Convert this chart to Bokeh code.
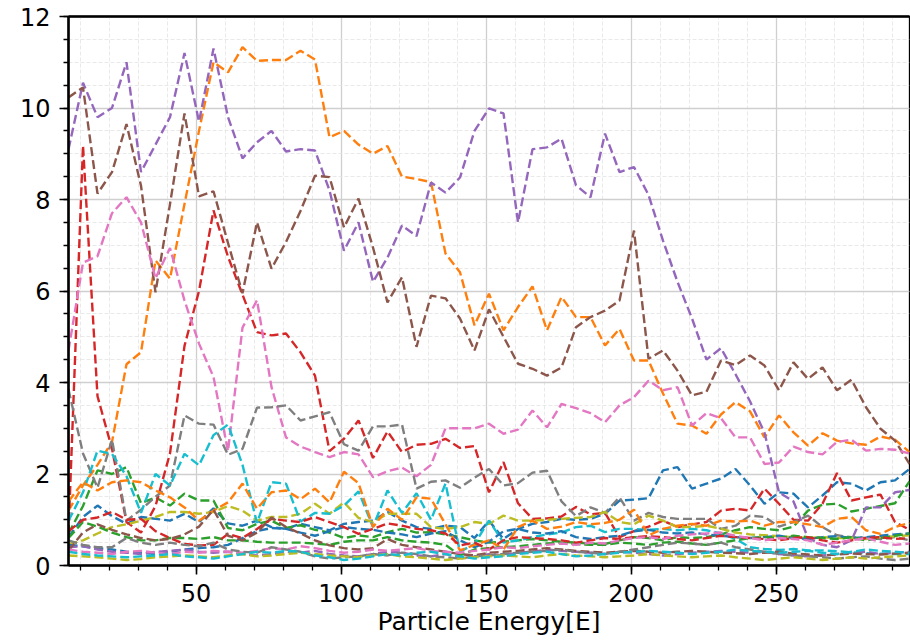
from bokeh.plotting import figure
from bokeh.models import Range1d, SingleIntervalTicker, LinearAxis, FixedTicker, Title
from bokeh.embed import file_html
from bokeh.resources import INLINE

# Particle energy grid
energy = [6, 11, 16, 21, 26, 31, 36, 41, 46, 51,
          56, 61, 66, 71, 76, 81, 86, 91, 96, 101,
          106, 111, 116, 121, 126, 131, 136, 141, 146, 151,
          156, 161, 166, 171, 176, 181, 186, 191, 196, 201,
          206, 211, 216, 221, 226, 231, 236, 241, 246, 251,
          256, 261, 266, 271, 276, 281, 286, 291, 296]

# First group of spectra
blue_a = [0.62, 1.06, 1.31, 1.08, 0.91, 1.06, 1.02, 0.98, 1.13, 0.95,
          1.25, 0.92, 0.87, 0.98, 0.84, 0.8, 0.91, 0.84, 0.77, 0.91,
          0.95, 0.98, 1.17, 0.98, 0.84, 0.8, 0.87, 0.84, 0.6, 0.98,
          0.58, 0.8, 0.91, 0.95, 1.02, 1.0, 1.02, 1.13, 1.42, 1.44,
          1.47, 2.08, 2.15, 1.68, 1.79, 1.9, 2.11, 1.75, 1.35, 1.6,
          1.57, 1.27, 1.53, 1.82, 1.79, 1.64, 1.82, 1.86, 2.11]
orange_a = [1.2, 1.75, 2.2, 2.7, 4.4, 4.66, 6.67, 6.27, 7.9, 9.5,
            11.0, 10.78, 11.33, 11.03, 11.05, 11.05, 11.25, 11.06, 9.36, 9.5,
            9.2, 9.0, 9.17, 8.5, 8.45, 8.38, 6.82, 6.41, 5.25, 5.94,
            5.14, 5.65, 6.1, 5.14, 5.87, 5.43, 5.43, 4.81, 5.17, 4.48,
            4.48, 3.76, 3.1, 3.06, 2.88, 3.3, 3.57, 3.37, 2.8, 3.28,
            2.91, 2.62, 2.89, 2.73, 2.67, 2.64, 2.82, 2.75, 2.48]
green_a = [0.7, 1.3, 2.08, 2.0, 2.15, 1.36, 1.49, 1.31, 1.57, 1.42,
           1.42, 0.82, 0.77, 0.91, 0.98, 0.82, 0.88, 0.78, 0.72, 0.6,
           0.66, 0.62, 0.73, 0.8, 0.72, 0.73, 0.68, 0.62, 0.55, 0.5,
           0.52, 0.55, 0.58, 0.55, 0.52, 0.5, 0.48, 0.47, 0.55, 0.62,
           0.6, 0.55, 0.62, 0.6, 0.62, 0.68, 0.77, 0.84, 0.8, 0.77,
           0.85, 1.2, 1.33, 1.35, 1.18, 1.24, 1.3, 1.36, 1.84]
red_a = [0.69, 9.18, 3.7, 2.55, 0.95, 0.72, 1.3, 2.45, 4.8, 6.0,
         7.76, 6.75, 5.92, 5.1, 5.03, 5.07, 4.66, 4.15, 2.5, 2.77,
         3.17, 2.35, 2.93, 2.48, 2.64, 2.66, 2.77, 2.57, 2.61, 1.6,
         2.26, 1.36, 1.02, 1.03, 1.07, 1.28, 1.12, 1.15, 0.62, 0.75,
         0.85, 0.98, 0.84, 0.9, 0.95, 1.2, 1.24, 1.2, 1.68, 1.35,
         1.0, 0.98, 1.35, 2.02, 1.42, 1.49, 1.55, 0.95, 0.78]
purple_a = [9.1, 10.55, 9.8, 10.0, 11.0, 8.6, 9.2, 9.8, 11.2, 9.7,
            11.3, 9.8, 8.9, 9.25, 9.5, 9.05, 9.1, 9.07, 8.2, 6.88,
            7.5, 6.2, 6.73, 7.43, 7.2, 8.37, 8.15, 8.48, 9.5, 9.99,
            9.88, 7.5, 9.1, 9.14, 9.33, 8.31, 8.05, 9.44, 8.6, 8.71,
            8.1, 7.1, 6.2, 5.4, 4.5, 4.75, 4.18, 3.59, 2.9, 1.6,
            1.4, 0.6, 0.45, 0.4, 0.55, 1.27, 1.27, 1.6, 1.65]
brown_a = [10.23, 10.45, 8.13, 8.6, 9.65, 8.3, 5.97, 7.9, 9.88, 8.07,
           8.18, 7.05, 5.95, 7.5, 6.49, 7.07, 7.75, 8.52, 8.49, 7.39,
           8.02, 6.95, 5.75, 6.3, 4.78, 5.9, 5.84, 5.4, 4.7, 5.6,
           5.0, 4.41, 4.3, 4.15, 4.33, 5.21, 5.43, 5.57, 5.79, 7.32,
           4.52, 4.7, 4.26, 3.72, 3.8, 4.48, 4.38, 4.59, 4.37, 3.83,
           4.44, 4.08, 4.33, 3.83, 4.06, 3.46, 2.99, 2.73, 2.22]
pink_a = [4.7, 6.62, 6.76, 7.7, 8.05, 7.5, 6.28, 6.94, 5.79, 4.85,
          4.12, 2.5, 5.2, 5.8, 3.9, 2.8, 2.6, 2.48, 2.37, 2.48,
          2.43, 1.93, 2.06, 2.14, 1.95, 2.2, 3.0, 3.0, 3.0, 3.1,
          2.88, 2.97, 3.39, 3.02, 3.53, 3.44, 3.33, 3.13, 3.5, 3.68,
          4.04, 3.83, 3.9, 3.06, 3.33, 3.22, 2.8, 2.8, 2.22, 2.25,
          2.6, 2.48, 2.43, 2.7, 2.75, 2.51, 2.55, 2.53, 2.45]
gray_a = [3.85, 2.45, 1.7, 2.75, 0.98, 1.22, 1.5, 1.75, 3.28, 3.1,
          3.08, 2.42, 2.55, 3.45, 3.46, 3.5, 3.17, 3.26, 3.35, 2.65,
          2.51, 3.04, 3.04, 3.08, 1.68, 1.83, 1.86, 1.7, 1.92, 2.11,
          1.75, 1.8, 2.03, 2.07, 1.4, 1.08, 1.27, 1.15, 1.49, 0.98,
          1.15, 1.06, 1.02, 1.02, 1.02, 0.8, 0.87, 1.09, 1.06, 0.85,
          0.95, 1.09, 0.84, 0.66, 0.62, 0.6, 0.58, 0.62, 0.55]
olive_a = [0.47, 0.55, 0.7, 0.84, 0.9, 0.98, 1.06, 1.17, 1.17, 1.13,
           1.17, 1.3, 1.2, 0.98, 1.06, 1.06, 1.13, 1.35, 1.13, 1.38,
           1.04, 0.95, 1.13, 1.13, 1.13, 0.84, 0.8, 0.84, 0.95, 0.91,
           1.09, 0.98, 0.98, 1.0, 1.02, 1.04, 1.06, 1.17, 0.95, 0.9,
           1.09, 0.98, 0.84, 0.84, 0.87, 0.8, 0.72, 0.68, 0.66, 0.64,
           0.62, 0.6, 0.62, 0.6, 0.6, 0.58, 0.62, 0.64, 0.66]
cyan_a = [0.98, 1.6, 2.51, 2.44, 1.95, 1.15, 2.0, 1.75, 2.44, 2.19,
          2.85, 3.08, 2.2, 0.93, 1.82, 1.79, 0.96, 1.15, 1.13, 1.31,
          1.62, 0.84, 1.64, 1.15, 1.58, 1.0, 1.79, 0.3, 0.47, 0.98,
          0.5, 0.55, 0.62, 0.68, 0.72, 0.84, 0.87, 0.73, 0.8, 0.8,
          0.78, 0.8, 0.77, 0.8, 0.77, 0.7, 0.58, 0.4, 0.36, 0.34,
          0.36, 0.33, 0.33, 0.31, 0.29, 0.27, 0.26, 0.25, 0.25]

# Second group of spectra
blue_b = [0.45, 0.42, 0.38, 0.35, 0.3, 0.28, 0.25, 0.3, 0.35, 0.38,
          0.4, 0.45, 0.6, 0.75, 0.82, 0.8, 0.72, 0.65, 0.75, 0.84,
          0.8, 0.78, 0.72, 0.68, 0.62, 0.7, 0.75, 0.55, 0.4, 0.52,
          0.75, 0.8, 0.72, 0.7, 0.75, 0.62, 0.58, 0.62, 0.65, 0.75,
          0.78, 0.72, 0.7, 0.72, 0.68, 0.65, 0.62, 0.6, 0.62, 0.65,
          0.6, 0.58, 0.62, 0.64, 0.6, 0.62, 0.65, 0.68, 0.7]
orange_b = [1.4, 1.82, 1.64, 1.82, 1.86, 1.82, 1.64, 1.49, 1.27, 0.98,
            1.2, 1.38, 1.79, 1.24, 1.6, 1.64, 1.45, 1.68, 1.38, 2.05,
            1.8, 0.84, 1.24, 1.0, 1.49, 1.46, 0.9, 0.33, 0.45, 0.55,
            0.35, 0.84, 0.98, 0.8, 0.85, 0.95, 0.9, 0.93, 1.0, 1.22,
            0.66, 0.8, 0.87, 0.91, 0.87, 0.98, 0.96, 0.98, 0.87, 0.95,
            0.95, 0.9, 0.84, 1.02, 1.06, 0.77, 0.69, 0.84, 0.93]
green_b = [0.6, 0.95, 0.85, 0.72, 0.62, 0.55, 0.55, 0.6, 0.6, 0.58,
           0.62, 0.55, 0.55, 0.52, 0.5, 0.5, 0.5, 0.48, 0.45, 0.52,
           0.55, 0.55, 0.62, 0.55, 0.52, 0.5, 0.45, 0.22, 0.35, 0.38,
           0.4, 0.42, 0.45, 0.48, 0.5, 0.47, 0.45, 0.45, 0.5, 0.48,
           0.45, 0.5, 0.52, 0.48, 0.45, 0.5, 0.55, 0.6, 0.62, 0.6,
           0.65, 0.62, 0.6, 0.58, 0.62, 0.55, 0.6, 0.65, 0.7]
red_b = [0.75, 1.0, 1.05, 1.17, 1.0, 1.02, 0.75, 0.6, 0.47, 0.44,
         0.45, 0.69, 0.6, 0.8, 1.02, 0.98, 0.95, 1.06, 0.95, 0.84,
         0.69, 0.8, 0.92, 0.87, 0.8, 0.77, 0.7, 0.44, 0.5, 0.35,
         0.55, 0.62, 0.6, 0.58, 0.55, 0.5, 0.55, 0.6, 0.58, 0.62,
         0.64, 0.62, 0.58, 0.55, 0.6, 0.65, 0.62, 0.6, 0.58, 0.55,
         0.6, 0.62, 0.55, 0.5, 0.55, 0.6, 0.62, 0.58, 0.6]
purple_b = [0.4, 0.42, 0.35, 0.3, 0.28, 0.25, 0.3, 0.32, 0.35, 0.3,
            0.28, 0.3, 0.25, 0.22, 0.25, 0.3, 0.28, 0.32, 0.25, 0.22,
            0.2, 0.25, 0.3, 0.28, 0.22, 0.2, 0.25, 0.18, 0.2, 0.25,
            0.22, 0.28, 0.3, 0.35, 0.32, 0.3, 0.28, 0.25, 0.3, 0.28,
            0.25, 0.22, 0.25, 0.28, 0.3, 0.32, 0.3, 0.28, 0.3, 0.25,
            0.22, 0.2, 0.22, 0.25, 0.28, 0.3, 0.25, 0.28, 0.3]
brown_b = [0.33, 0.72, 0.9, 0.78, 0.68, 0.6, 0.55, 0.58, 0.68, 0.85,
           1.22, 0.65, 0.55, 0.72, 1.05, 0.84, 0.7, 0.55, 0.44, 0.38,
           0.35, 0.38, 0.58, 0.45, 0.4, 0.35, 0.3, 0.25, 0.22, 0.28,
           0.3, 0.32, 0.35, 0.38, 0.35, 0.32, 0.3, 0.28, 0.3, 0.32,
           0.3, 0.28, 0.3, 0.32, 0.3, 0.28, 0.27, 0.25, 0.28, 0.3,
           0.26, 0.24, 0.22, 0.24, 0.26, 0.25, 0.24, 0.26, 0.28]
pink_b = [0.35, 0.3, 0.28, 0.25, 0.3, 0.32, 0.28, 0.25, 0.3, 0.28,
          0.32, 0.3, 0.28, 0.32, 0.38, 0.35, 0.42, 0.38, 0.32, 0.28,
          0.3, 0.35, 0.32, 0.35, 0.38, 0.32, 0.3, 0.28, 0.32, 0.35,
          0.4, 0.38, 0.42, 0.45, 0.48, 0.45, 0.5, 0.48, 0.55, 0.6,
          0.62, 0.58, 0.65, 0.68, 0.7, 0.72, 0.65, 0.6, 0.55, 0.6,
          0.58, 0.55, 0.45, 0.5, 0.55, 0.6, 0.52, 0.45, 0.48]
gray_b = [0.55, 0.45, 0.4, 0.4, 0.6, 0.5, 0.45, 0.5, 0.45, 0.42,
          0.5, 0.35, 0.3, 0.28, 0.4, 0.35, 0.3, 0.2, 0.15, 0.18,
          0.2, 0.25, 0.22, 0.28, 0.25, 0.2, 0.18, 0.15, 0.2, 0.22,
          0.25, 0.28, 0.3, 0.32, 0.35, 0.3, 0.28, 0.25, 0.3, 0.35,
          0.4, 0.45, 0.5, 0.48, 0.45, 0.5, 0.4, 0.35, 0.3, 0.25,
          0.22, 0.2, 0.18, 0.15, 0.18, 0.2, 0.15, 0.12, 0.15]
olive_b = [0.22, 0.2, 0.18, 0.15, 0.12, 0.14, 0.18, 0.2, 0.22, 0.2,
           0.18, 0.22, 0.25, 0.2, 0.22, 0.25, 0.28, 0.25, 0.22, 0.2,
           0.18, 0.22, 0.25, 0.2, 0.18, 0.15, 0.12, 0.15, 0.18, 0.2,
           0.22, 0.2, 0.18, 0.22, 0.25, 0.22, 0.2, 0.18, 0.2, 0.22,
           0.25, 0.22, 0.2, 0.18, 0.2, 0.22, 0.18, 0.15, 0.12, 0.15,
           0.18, 0.15, 0.12, 0.15, 0.18, 0.15, 0.18, 0.2, 0.22]
cyan_b = [0.3, 0.25, 0.22, 0.2, 0.18, 0.2, 0.22, 0.25, 0.2, 0.18,
          0.15, 0.2, 0.25, 0.3, 0.28, 0.32, 0.3, 0.22, 0.18, 0.12,
          0.15, 0.2, 0.25, 0.22, 0.28, 0.3, 0.25, 0.2, 0.15, 0.18,
          0.2, 0.25, 0.28, 0.3, 0.25, 0.2, 0.22, 0.25, 0.28, 0.3,
          0.32, 0.3, 0.28, 0.25, 0.28, 0.3, 0.35, 0.32, 0.3, 0.28,
          0.3, 0.32, 0.28, 0.25, 0.3, 0.35, 0.32, 0.3, 0.28]

palette = ["#1f77b4", "#ff7f0e", "#2ca02c", "#d62728", "#9467bd",
           "#8c564b", "#e377c2", "#7f7f7f", "#bcbd22", "#17becf"]
spectra = [blue_a, orange_a, green_a, red_a, purple_a,
           brown_a, pink_a, gray_a, olive_a, cyan_a,
           blue_b, orange_b, green_b, red_b, purple_b,
           brown_b, pink_b, gray_b, olive_b, cyan_b]

FONT = "DejaVu Sans"

p = figure(width=910, height=641, title=None,
           x_range=Range1d(6, 296), y_range=Range1d(0, 12),
           output_backend="svg", toolbar_location=None,
           min_border_left=68, min_border_right=1,
           min_border_top=16, min_border_bottom=76)
p.background_fill_color = "white"
p.border_fill_color = "white"
p.outline_line_color = "black"
p.outline_line_width = 1.3

p.xaxis.ticker = SingleIntervalTicker(interval=50, num_minor_ticks=5)
p.yaxis.ticker = SingleIntervalTicker(interval=2, num_minor_ticks=4)

for ax in (p.xaxis[0], p.yaxis[0]):
    ax.axis_line_color = "black"
    ax.axis_line_width = 2.6
    ax.major_tick_line_color = "black"
    ax.major_tick_line_width = 1.6
    ax.major_tick_in = 0
    ax.major_tick_out = 9
    ax.minor_tick_line_color = "black"
    ax.minor_tick_line_width = 1.3
    ax.minor_tick_in = 0
    ax.minor_tick_out = 5
    ax.major_label_text_font = FONT
    ax.major_label_text_font_size = "24px"
    ax.major_label_text_color = "black"

p.xaxis.major_label_standoff = 9
p.yaxis.major_label_standoff = 9

# x-axis title, stacked directly under the tick labels
p.add_layout(Title(text="Particle Energy[E]", align="center", text_font=FONT,
                   text_font_size="25px", text_font_style="normal",
                   text_color="black", standoff=0, offset=0), "below")

# heavy top edge of the frame
top_edge = LinearAxis(ticker=FixedTicker(ticks=[]), major_label_text_font_size="0px",
                      axis_line_width=2.6, axis_line_color="black",
                      major_tick_out=0, major_tick_in=0, minor_tick_out=0, minor_tick_in=0,
                      major_label_standoff=0)
p.add_layout(top_edge, "above")

for g in (p.xgrid[0], p.ygrid[0]):
    g.grid_line_color = "#cfcfcf"
    g.grid_line_width = 1.3
    g.minor_grid_line_color = "#e3e3e3"
    g.minor_grid_line_width = 0.8
    g.minor_grid_line_dash = "4 2"

for i, ys in enumerate(spectra):
    p.line(energy, ys, line_color=palette[i % 10], line_width=2.4, line_dash="9 4")

open("out.html", "w").write(file_html(p, INLINE))
